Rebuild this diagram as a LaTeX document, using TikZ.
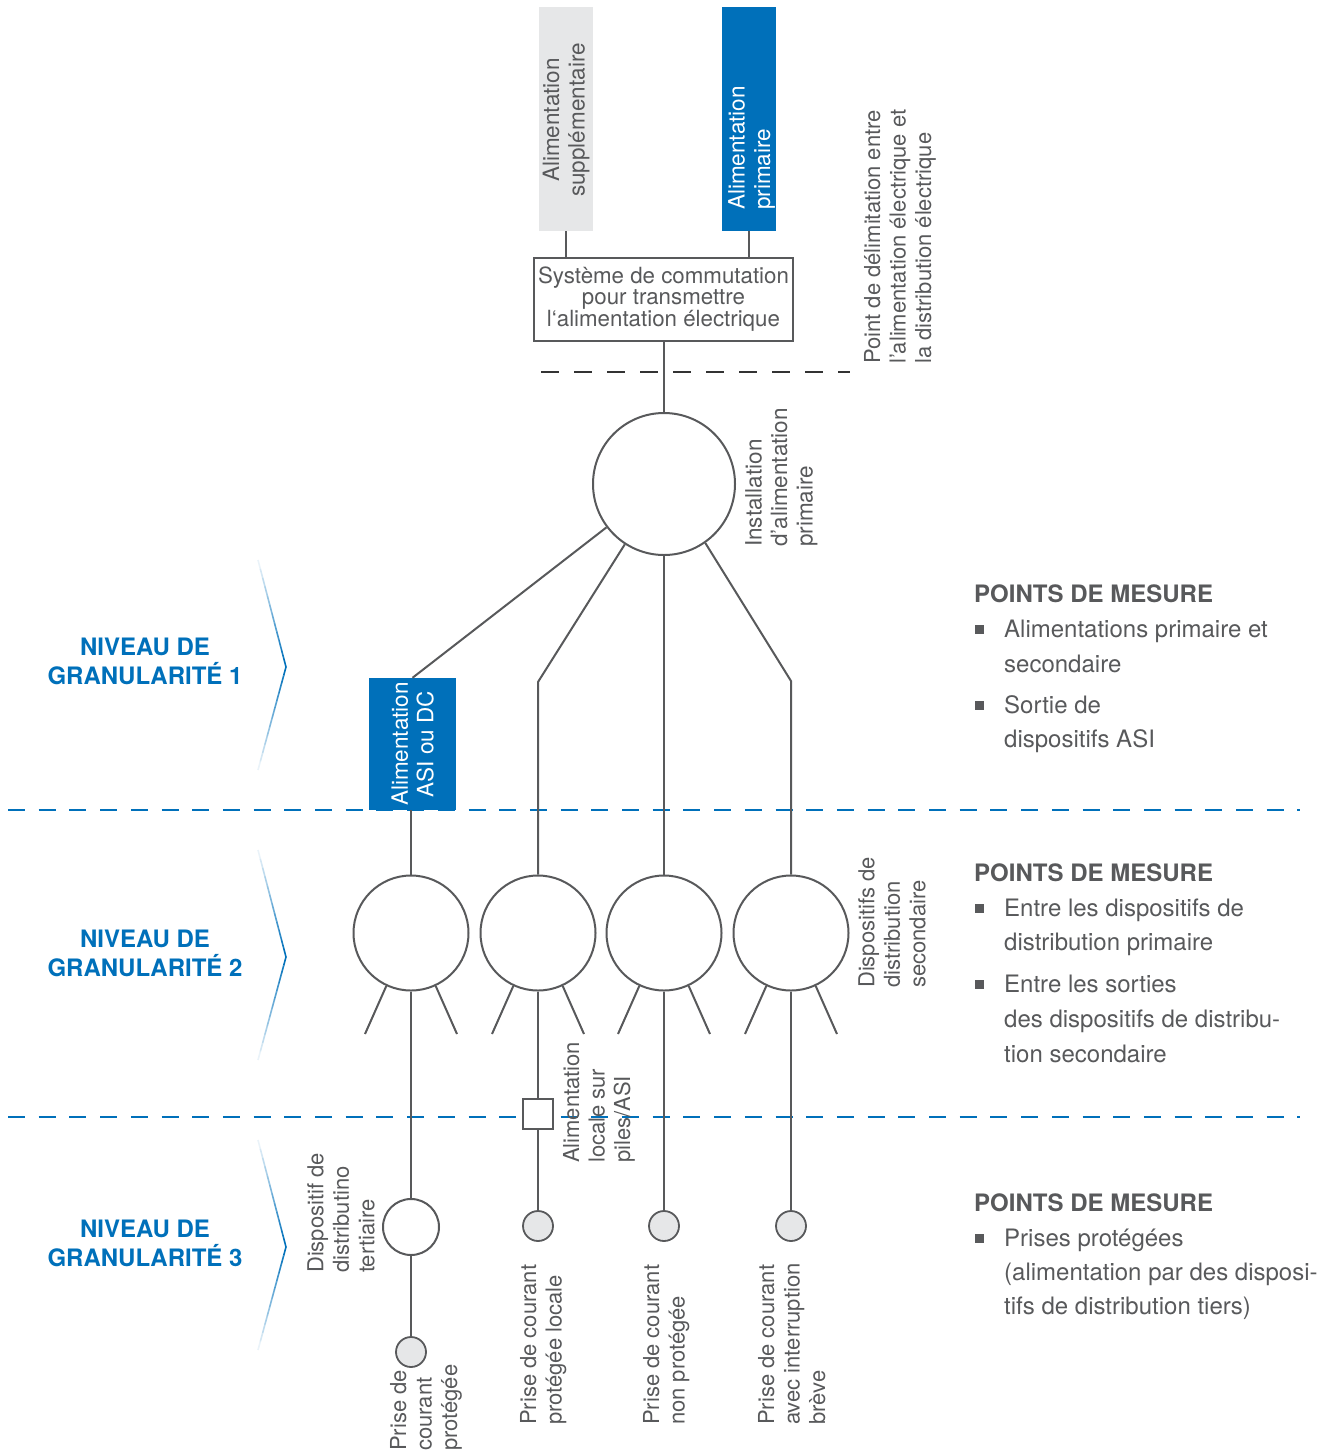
\documentclass[tikz,border=0pt]{standalone}
\usepackage{fontspec}
\setmainfont{TeX Gyre Heros}
\usetikzlibrary{calc}
\definecolor{lgrey}{HTML}{E6E7E8}
\definecolor{dgrey}{HTML}{58595B}
\definecolor{mblue}{HTML}{0070BA}
\begin{document}
\begin{tikzpicture}[x=1pt,y=-1pt,
 wire/.style={draw=dgrey,line width=2pt},
 ring/.style={circle,draw=dgrey,line width=2pt,fill=white,inner sep=0pt},
 outlet/.style={circle,draw=dgrey,line width=1.8pt,fill=lgrey,inner sep=0pt,minimum size=30pt},
 rlab/.style={rotate=90,anchor=north west,inner sep=0pt,align=left,text=dgrey,font=\fontsize{22}{25.5}\selectfont},
 clab/.style={rotate=90,inner sep=0pt,align=center,font=\fontsize{22.5}{25.5}\selectfont},
 lvl/.style={anchor=base,inner sep=0pt,text=mblue,font=\fontsize{24}{29}\selectfont\bfseries},
 hdr/.style={anchor=base west,inner sep=0pt,text=dgrey,font=\fontsize{24}{35}\selectfont\bfseries},
 itm/.style={anchor=base west,inner sep=0pt,text=dgrey,font=\fontsize{24}{35}\selectfont},
 bul/.style={rectangle,fill=dgrey,minimum size=9pt,inner sep=0pt},
 bdash/.style={draw=mblue,line width=2.7pt,dash pattern=on 17pt off 13.7pt},
 kdash/.style={draw=black!80,line width=2pt,dash pattern=on 18pt off 15pt},
 chev/.style={draw=mblue,line width=1.6pt},
]
\useasboundingbox (0,0) rectangle (1335,1454);

% dashed separators
\coordinate (d1a) at (8,810); \coordinate (d1b) at (1300,810);
\coordinate (d2a) at (8,1117); \coordinate (d2b) at (1300,1117);
\draw[bdash] (d1a) -- (d1b);
\draw[bdash] (d2a) -- (d2b);
\coordinate (k1a) at (541,372); \coordinate (k1b) at (850,372);
\draw[kdash] (k1a) -- (k1b);

% chevrons
\foreach \t in {560,850,1140}{
  \foreach \i [evaluate=\i as \op using (\i+1)/12, evaluate=\i as \oq using 1-\i/12] in {0,...,11}{
    \draw[chev,draw opacity=\op] (258+\i*28/12, \t+\i*107/12) -- (258+\i*28/12+28/12, \t+\i*107/12+107/12);
    \draw[chev,draw opacity=\oq] (286-\i*28/12, \t+107+\i*103/12) -- (286-\i*28/12-28/12, \t+107+\i*103/12+103/12);
  }
}

% top supply boxes
\node[fill=lgrey,minimum width=54pt,minimum height=224pt,inner sep=0pt] (g) at (566,119) {};
\node[clab,text=dgrey] (gt) at (566,120) {Alimentation\\supplémentaire};
\node[fill=mblue,minimum width=54pt,minimum height=224pt,inner sep=0pt] (p) at (749,119) {};
\node[rlab,text=white,font=\fontsize{22.5}{25.5}\selectfont] (pt) at (728,210) {Alimentation\\primaire};

% switch box
\node[draw=dgrey,line width=2pt,fill=white,minimum width=259pt,minimum height=83pt,align=center,inner sep=0pt,text=dgrey,font=\fontsize{22.3}{21}\selectfont] (sw) at (663.5,299.5) {Système de commutation\\pour transmettre\\l‘alimentation électrique};

\node[rlab] (dl) at (864,364) {Point de délimitation entre\\l’alimentation électrique et\\la distribution électrique};

% primary installation
\node[ring,minimum size=142pt] (c0) at (664,484) {};
\node[rlab,font=\fontsize{22.5}{25.5}\selectfont] (c0l) at (745,547) {Installation\\d’alimentation\\primaire};

% ASI box
\node[fill=mblue,minimum width=87pt,minimum height=132pt,inner sep=0pt] (asi) at (412.5,744) {};
\node[clab,text=white] (asit) at (412.5,744) {Alimentation\\ASI ou DC};

% level 2 rings
\node[ring,minimum size=115pt] (s1) at (411,933) {};
\node[ring,minimum size=115pt] (s2) at (538,933) {};
\node[ring,minimum size=115pt] (s3) at (664,933) {};
\node[ring,minimum size=115pt] (s4) at (791,933) {};
\node[rlab] (s4l) at (858,988) {Dispositifs de\\distribution\\secondaire};

% level 3
\node[draw=dgrey,line width=2pt,fill=white,minimum size=30pt,inner sep=0pt] (q) at (538,1114) {};
\node[rlab] (ql) at (563,1163) {Alimentation\\locale sur\\piles/ASI};
\node[ring,minimum size=56pt] (t) at (411,1227) {};
\node[rlab] (tl) at (307,1273) {Dispositif de\\distributino\\tertiaire};
\node[outlet] (o1) at (411,1352) {};
\node[outlet] (o2) at (538,1226) {};
\node[outlet] (o3) at (664,1226) {};
\node[outlet] (o4) at (791,1226) {};
\node[rlab] (o1l) at (390,1451) {Prise de\\courant\\protégée};
\node[rlab] (o2l) at (520,1425) {Prise de courant\\protégée locale};
\node[rlab] (o3l) at (643,1425) {Prise de courant\\non protégée};
\node[rlab] (o4l) at (758,1425) {Prise de courant\\avec interruption\\brève};

% connectors
\draw[wire] (g.south) -- (g.south |- sw.north);
\draw[wire] (p.south) -- (p.south |- sw.north);
\draw[wire] (c0.north |- sw.south) -- (c0.north);
\draw[wire] (c0.217.7) -- (asi.north);
\coordinate (k2) at (538,682); \coordinate (k4) at (791,681);
\draw[wire] (c0.237.4) -- (k2) -- (s2.north);
\draw[wire] (c0.south) -- (s3.north);
\draw[wire] (c0.-55.2) -- (k4) -- (s4.north);
\draw[wire] (s1.north |- asi.south) -- (s1.north);
\foreach \n in {1,...,4}{
  \coordinate (s\n L) at ($(s\n)+(-46,101)$);
  \coordinate (s\n R) at ($(s\n)+(46,101)$);
  \draw[wire] (s\n.-115) -- (s\n L);
  \draw[wire] (s\n.-65) -- (s\n R);
}
\draw[wire] (s1.south) -- (t.north);
\draw[wire] (t.south) -- (o1.north);
\draw[wire] (s2.south) -- (q.north);
\draw[wire] (q.south) -- (o2.north);
\draw[wire] (s3.south) -- (o3.north);
\draw[wire] (s4.south) -- (o4.north);

% level labels
\node[lvl] (l1a) at (145,655) {NIVEAU DE};
\node[lvl] (l1b) at (145,684) {GRANULARITÉ 1};
\node[lvl] (l2a) at (145,947) {NIVEAU DE};
\node[lvl] (l2b) at (145,976) {GRANULARITÉ 2};
\node[lvl] (l3a) at (145,1237) {NIVEAU DE};
\node[lvl] (l3b) at (145,1266) {GRANULARITÉ 3};

% measurement points
\node[hdr] (h1) at (974,602) {POINTS DE MESURE};
\node[bul] (b1) at (979.5,629) {};
\node[itm] (i1a) at (1004,637) {Alimentations primaire et};
\node[itm] (i1b) at (1004,672) {secondaire};
\node[bul] (b2) at (979.5,705) {};
\node[itm] (i2a) at (1004,713) {Sortie de};
\node[itm] (i2b) at (1004,747) {dispositifs ASI};

\node[hdr] (h2) at (974,881) {POINTS DE MESURE};
\node[bul] (b3) at (979.5,908) {};
\node[itm] (i3a) at (1004,916) {Entre les dispositifs de};
\node[itm] (i3b) at (1004,950) {distribution primaire};
\node[bul] (b4) at (979.5,984) {};
\node[itm] (i4a) at (1004,992) {Entre les sorties};
\node[itm] (i4b) at (1004,1027) {des dispositifs de distribu-};
\node[itm] (i4c) at (1004,1062) {tion secondaire};

\node[hdr] (h3) at (974,1211) {POINTS DE MESURE};
\node[bul] (b5) at (979.5,1238) {};
\node[itm] (i5a) at (1004,1246) {Prises protégées};
\node[itm] (i5b) at (1004,1280) {(alimentation par des disposi-};
\node[itm] (i5c) at (1004,1314) {tifs de distribution tiers)};
\end{tikzpicture}
\end{document}
